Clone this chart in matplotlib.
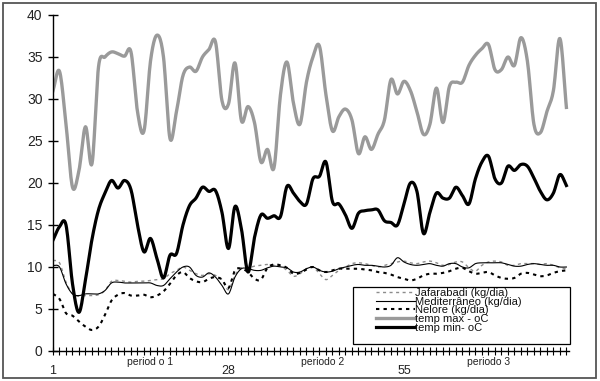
import numpy as np
import matplotlib
matplotlib.use("Agg")
import matplotlib.pyplot as plt
from matplotlib.patches import Rectangle

plt.rcParams['font.family'] = ['Liberation Sans', 'DejaVu Sans']

# Datos (80 días)
dias = np.arange(1, 81)

jafarabadi = [10.8, 10.5, 8.2, 6.8, 6.5, 6.6, 6.6, 6.7, 7.2, 8.3,
              8.4, 8.3, 8.2, 8.3, 8.3, 8.4, 8.5, 8.6, 9.2, 9.6,
              10.0, 9.6, 9.2, 9.0, 9.2, 9.0, 8.5, 7.3, 9.0, 9.9,
              9.9, 10.1, 10.2, 10.3, 10.2, 10.1, 9.6, 8.9, 9.2, 9.8,
              10.0, 9.2, 8.5, 9.0, 9.6, 10.0, 10.4, 10.5, 10.4, 10.2,
              10.0, 10.2, 10.4, 10.6, 10.7, 10.5, 10.4, 10.6, 10.7, 10.5,
              10.2, 10.3, 10.6, 10.6, 9.9, 9.5, 10.2, 10.6, 10.7, 10.6,
              10.2, 10.2, 10.4, 10.4, 10.4, 10.3, 10.4, 10.2, 9.9, 9.8]

mediterraneo = [10.2, 10.0, 8.0, 6.8, 6.6, 6.8, 6.8, 6.8, 7.2, 8.1,
                8.2, 8.1, 8.1, 8.1, 8.1, 8.1, 7.8, 7.8, 8.6, 9.4,
                10.0, 10.0, 9.0, 8.8, 9.3, 8.8, 7.8, 6.8, 8.8, 9.8,
                9.8, 9.6, 9.6, 9.9, 10.1, 10.0, 9.9, 9.4, 9.4, 9.8,
                10.0, 9.6, 9.4, 9.5, 9.8, 10.0, 10.2, 10.3, 10.2, 10.2,
                10.1, 10.0, 10.2, 11.1, 10.6, 10.3, 10.2, 10.3, 10.4, 10.2,
                10.1, 10.4, 10.4, 10.0, 9.9, 10.4, 10.5, 10.5, 10.5, 10.5,
                10.3, 10.1, 10.1, 10.3, 10.4, 10.3, 10.2, 10.2, 10.0, 10.0]

nelore = [6.8, 6.2, 4.5, 4.2, 3.5, 2.9, 2.5, 2.9, 4.3, 6.0,
          6.7, 6.9, 6.6, 6.6, 6.7, 6.4, 6.6, 7.1, 8.0, 9.0,
          9.4, 8.7, 8.3, 8.2, 8.6, 8.8, 8.5, 7.5, 9.6, 9.8,
          9.4, 8.6, 8.5, 9.9, 10.3, 10.2, 9.9, 9.2, 9.3, 9.7,
          10.0, 9.6, 9.4, 9.6, 9.8, 9.8, 9.8, 9.8, 9.7, 9.6,
          9.4, 9.3, 9.1, 8.8, 8.6, 8.4, 8.6, 9.0, 9.2, 9.2,
          9.3, 9.5, 9.8, 9.9, 9.5, 9.2, 9.3, 9.4, 9.0, 8.7,
          8.6, 8.7, 9.2, 9.3, 9.1, 8.9, 9.0, 9.3, 9.5, 9.6]

temp_max = [31.0, 33.3, 27.0, 19.5, 21.5, 26.7, 22.3, 33.8, 35.0, 35.6,
            35.4, 35.1, 35.6, 28.5, 26.2, 34.5, 37.6, 35.0, 25.3, 28.5,
            32.8, 33.8, 33.3, 35.0, 35.9, 36.8, 29.8, 29.4, 34.3, 27.4,
            29.1, 27.2, 22.5, 24.0, 21.8, 30.5, 34.4, 29.5, 27.0, 32.0,
            35.0, 36.3, 30.5, 26.2, 27.9, 28.8, 27.5, 23.5, 25.5, 24.0,
            25.8, 27.5, 32.3, 30.6, 32.1, 31.0, 28.5, 25.8, 27.0, 31.3,
            27.2, 31.5, 32.0, 32.0, 34.0, 35.2, 36.0, 36.5, 33.5, 33.5,
            35.0, 34.0, 37.3, 34.5, 27.0, 26.0, 28.5, 31.0, 37.2, 29.0]

temp_min = [13.2, 14.8, 15.0, 8.0, 4.6, 8.5, 13.3, 16.8, 18.8, 20.3,
            19.4, 20.3, 19.2, 15.0, 11.8, 13.4, 11.0, 8.7, 11.4, 11.6,
            15.0, 17.3, 18.2, 19.5, 19.0, 19.1, 16.5, 12.2, 17.2, 14.5,
            9.4, 13.5, 16.2, 15.8, 16.1, 16.0, 19.6, 18.8, 17.8, 17.5,
            20.5, 20.8, 22.5, 17.8, 17.5, 16.2, 14.6, 16.4, 16.7, 16.8,
            16.8, 15.5, 15.3, 15.0, 17.5, 20.0, 19.0, 14.0, 16.5, 18.8,
            18.2, 18.2, 19.5, 18.5, 17.5, 20.5, 22.5, 23.2, 20.5, 20.0,
            22.0, 21.5, 22.2, 22.0, 20.6, 19.0, 18.0, 18.8, 21.0, 19.7]

etiquetas_x = {1: '1', 28: '28', 55: '55'}
periodos = ['period o 1', 'periodo 2', 'periodo 3']
pos_periodos = [16, 42.5, 68]


# Línea suavizada (Catmull-Rom), parecida a la de Excel
def suavizar(x, y, n=12):
    x = np.asarray(x, float)
    y = np.asarray(y, float)
    xp = np.concatenate([[2 * x[0] - x[1]], x, [2 * x[-1] - x[-2]]])
    yp = np.concatenate([[2 * y[0] - y[1]], y, [2 * y[-1] - y[-2]]])
    t = np.linspace(0, 1, n, endpoint=False)[None, :]
    def cr(p):
        p0, p1, p2, p3 = p[:-3, None], p[1:-2, None], p[2:-1, None], p[3:, None]
        return 0.5 * (2 * p1 + (-p0 + p2) * t + (2 * p0 - 5 * p1 + 4 * p2 - p3) * t ** 2
                      + (-p0 + 3 * p1 - 3 * p2 + p3) * t ** 3)
    xs = np.append(cr(xp).ravel(), x[-1])
    ys = np.append(cr(yp).ravel(), y[-1])
    return xs, ys


fig = plt.figure(figsize=(6, 3.81), dpi=100)
ax = fig.add_axes([53 / 600, 30 / 381, 516 / 600, 336 / 381])

series = [
    (jafarabadi, 'Jafarabadi (kg/dia)', dict(color='#8c8c8c', lw=1.0, dashes=(2.2, 2.5))),
    (mediterraneo, 'Mediterrâneo (kg/dia)', dict(color='black', lw=0.8)),
    (nelore, 'Nelore (kg/dia)', dict(color='black', lw=1.5, dashes=(1.6, 2))),
    (temp_max, 'temp max - oC', dict(color='#9a9a9a', lw=2.4)),
    (temp_min, 'temp min- oC', dict(color='black', lw=2.3)),
]
for valores, nombre, estilo in series:
    xs, ys = suavizar(dias, valores)
    ax.plot(xs, ys, label=nombre, solid_joinstyle='round', **estilo)

ax.set_xlim(1, 80.4)
ax.set_ylim(0, 40)
ax.set_yticks(np.arange(0, 41, 5))
ax.set_xticks(dias)
ax.set_xticklabels([etiquetas_x.get(d, '') for d in dias])

for s in ['top', 'right']:
    ax.spines[s].set_visible(False)
for s in ['left', 'bottom']:
    ax.spines[s].set_linewidth(1.0)

ax.tick_params(axis='y', direction='inout', length=7, width=1, labelsize=10,
               labelcolor='#222222', pad=4)
ax.tick_params(axis='x', direction='inout', length=6, width=0.8, labelsize=9,
               labelcolor='#222222', pad=7)

for txt, xp in zip(periodos, pos_periodos):
    ax.text(xp, -0.018, txt, transform=ax.get_xaxis_transform(),
            ha='center', va='top', fontsize=7.5, color='#222222')

leg = ax.legend(loc='upper left', bbox_to_anchor=((376 - 53) / 516, (351 - 288) / 336),
                frameon=False, fontsize=8, handlelength=3.5, handletextpad=0.05,
                labelspacing=-0.12, borderpad=0, borderaxespad=0)
for t in leg.get_texts():
    t.set_color('#111111')

# Marco de la leyenda
ax.add_patch(Rectangle(((353 - 53) / 516, (351 - 344) / 336), (570 - 353) / 516, 57 / 336,
                       transform=ax.transAxes, fill=False, ec='black', lw=0.9, clip_on=False))

# Marco exterior de la figura
fig.patches.append(Rectangle((3 / 600, 3 / 381), 593 / 600, 375 / 381,
                             transform=fig.transFigure, fill=False, ec='#555555', lw=1.3))

fig.savefig('out.png', dpi=100)
